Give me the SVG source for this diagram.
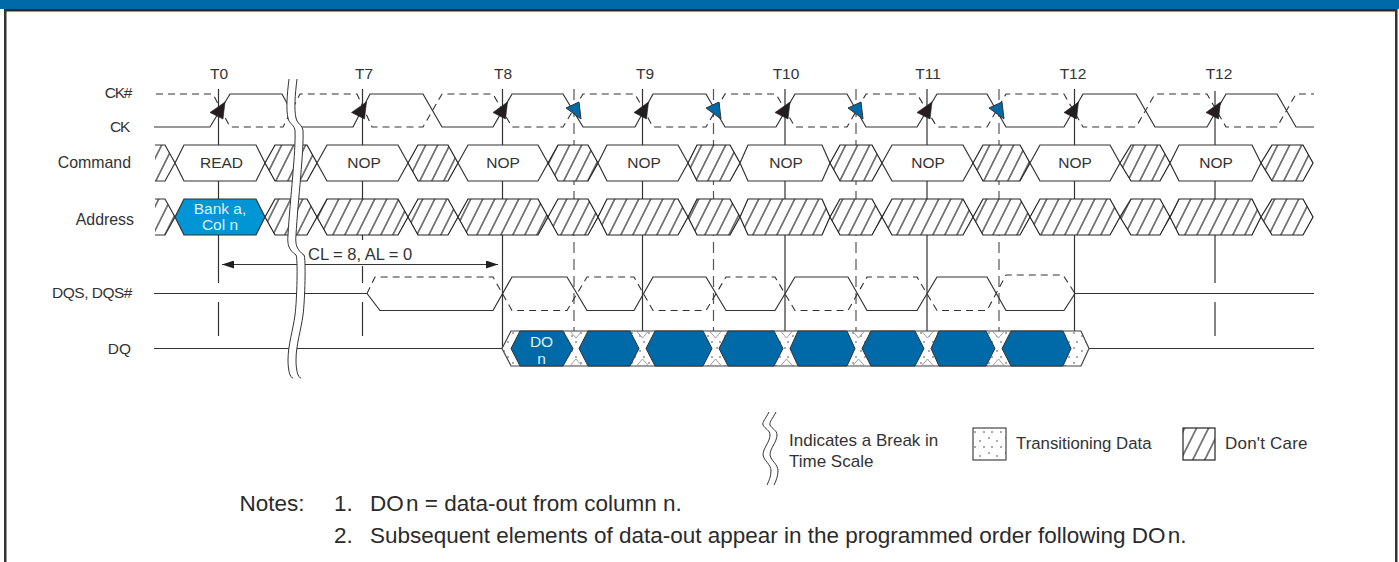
<svg xmlns="http://www.w3.org/2000/svg" width="1399" height="562" viewBox="0 0 1399 562">
<style>
text{font-family:"Liberation Sans",Arial,sans-serif;fill:#333;font-size:15.5px}
.m{text-anchor:middle}.e{text-anchor:end}
.n{font-size:22.500px;fill:#2b2b2b}
.lg{font-size:17px}
.l{fill:#dff1fb}
.w{fill:none;stroke:#333;stroke-width:1.2}
.d{fill:none;stroke:#333;stroke-width:1.1;stroke-dasharray:7 5}
.v{stroke:#333;stroke-width:1.2;fill:none}
.th{stroke:#333;stroke-width:1;fill:none}
.g{stroke:#555;stroke-width:1.2;fill:none;stroke-dasharray:11 6}
.h{fill:#fff;stroke:#333;stroke-width:1.2}
.c{fill:url(#hatch);stroke:#222;stroke-width:1.2}
.bl{fill:#0069a8;stroke:#333;stroke-width:1}
.k{fill:#231f20;stroke:#231f20;stroke-width:.6}
.s{fill:url(#stip);stroke:#444;stroke-width:1.2}
.nt{fill:#fff;stroke:#888;stroke-width:.8}
</style>
<defs>
<pattern id="hatch" patternUnits="userSpaceOnUse" width="12" height="36" patternTransform="skewX(-26.5)"><rect width="12" height="36" fill="#fff"/><line x1="6" y1="0" x2="6" y2="36" stroke="#222" stroke-width="1.25"/></pattern>
<pattern id="stip" patternUnits="userSpaceOnUse" width="17" height="15"><rect width="17" height="15" fill="#fff"/><circle cx="3" cy="3" r="1.100" fill="#999"/><circle cx="11" cy="6" r="1.100" fill="#999"/><circle cx="6" cy="12" r="1.100" fill="#999"/><circle cx="15" cy="12" r="1.100" fill="#999"/></pattern>
<marker id="ah" markerWidth="13" markerHeight="8" refX="12" refY="4" orient="auto-start-reverse" markerUnits="userSpaceOnUse"><path d="M0,0 L12,4 L0,8 Z" fill="#231f20"/></marker>
</defs>
<rect width="1399" height="562" fill="#fff"/>
<g id="frame">
<rect x="0" y="0" width="1399" height="9" fill="#0069a8"/>
<rect x="5" y="9" width="1391" height="2.500" fill="#2b2b2b"/>
<rect x="4" y="9" width="2.500" height="553" fill="#333"/>
<rect x="1395" y="9" width="2.500" height="553" fill="#333"/>
</g>
<g id="connectors">
<path class="v" d="M218.500,89V283M218.500,302V336M362.500,89V240M362.500,266V283M362.500,302V336M502.500,89V348M642.500,89V338M785,89V338M927,89V338M1074.500,89V331M1215,91V283M1215,302V336"/>
<path class="g" d="M574,89V338M713.500,89V338M856,89V338M999,89V338"/>
<line class="v" x1="222" y1="264.500" x2="498" y2="264.500" marker-start="url(#ah)" marker-end="url(#ah)"/>
</g>
<g id="clock">
<path class="d" d="M156,94H213L230,127H283L300,94H357L372,127H423L442,94H493L512,127H563L583,94H635L653,127H706L725,94H776L795,127H847L866,94H917L937,127H987L1006,94H1064L1083,127H1136L1155,94H1207L1226,127H1277L1296,94H1314"/>
<path class="w" d="M154,127H210L230,94H282L300,127H353L370,94H423L442,127H493L512,94H563L583,127H635L653,94H706L725,127H776L795,94H847L866,127H917L937,94H987L1006,127H1064L1083,94H1136L1155,127H1207L1226,94H1277L1296,127H1314"/>
<polygon class="k" points="210,112.500 225,102 223,119"/>
<polygon class="k" points="351.500,112.500 366.500,102 364.500,119"/>
<polygon class="k" points="493,112.500 507.500,102 505.500,119"/>
<polygon class="k" points="634,112.500 648.500,102 646.500,119"/>
<polygon class="k" points="775,112.500 790,102 788,119"/>
<polygon class="k" points="917,112.500 932,102 930,119"/>
<polygon class="k" points="1064,112.500 1078.500,102 1076.500,119"/>
<polygon class="k" points="1206,112.500 1220.500,102 1218.500,119"/>
<polygon class="bl" points="566,108 579,102 581,119"/>
<polygon class="bl" points="706,108 719,102 721,119"/>
<polygon class="bl" points="848,108 861,102 863,119"/>
<polygon class="bl" points="989,108 1002,102 1004,119"/>
</g>
<g id="command">
<polygon points="155,145 165,145 175,163 165,181 155,181" fill="url(#hatch)"/>
<polyline class="v" points="155,145 165,145 175,163 165,181 155,181"/>
<polygon class="h" points="175,163 184,145 256,145 265,163 256,181 184,181"/>
<polygon class="c" points="265,163 275,145 307,145 317,163 307,181 275,181"/>
<polygon class="h" points="317,163 327,145 398,145 408,163 398,181 327,181"/>
<polygon class="c" points="408,163 418,145 448,145 458,163 448,181 418,181"/>
<polygon class="h" points="458,163 468,145 538,145 548,163 538,181 468,181"/>
<polygon class="c" points="548,163 558,145 588,145 598,163 588,181 558,181"/>
<polygon class="h" points="598,163 607,145 678,145 688,163 678,181 607,181"/>
<polygon class="c" points="688,163 697,145 730,145 740,163 730,181 697,181"/>
<polygon class="h" points="740,163 748,145 822,145 830,163 822,181 748,181"/>
<polygon class="c" points="830,163 840,145 872,145 882,163 872,181 840,181"/>
<polygon class="h" points="882,163 892,145 963,145 973,163 963,181 892,181"/>
<polygon class="c" points="973,163 983,145 1020,145 1030,163 1020,181 983,181"/>
<polygon class="h" points="1030,163 1040,145 1110,145 1120,163 1110,181 1040,181"/>
<polygon class="c" points="1120,163 1131,145 1160,145 1170,163 1160,181 1131,181"/>
<polygon class="h" points="1170,163 1179,145 1252,145 1261,163 1252,181 1179,181"/>
<polygon class="c" points="1261,163 1272,145 1303,145 1313,163 1303,181 1272,181"/>
<text class="m" x="221.500" y="168">READ</text>
<text class="m" x="364" y="168">NOP</text><text class="m" x="503" y="168">NOP</text><text class="m" x="644" y="168">NOP</text><text class="m" x="786" y="168">NOP</text><text class="m" x="928" y="168">NOP</text><text class="m" x="1075" y="168">NOP</text><text class="m" x="1216" y="168">NOP</text>
</g>
<g id="address">
<polygon points="155,199 165,199 175,217 165,235 155,235" fill="url(#hatch)"/>
<polyline class="v" points="155,199 165,199 175,217 165,235 155,235"/>
<polygon points="175,217 184,199 256,199 265,217 256,235 184,235" fill="#0096d6" stroke="#333" stroke-width="1.200"/>
<polygon class="c" points="265,217 275,199 307,199 317,217 307,235 275,235"/>
<polygon class="c" points="317,217 327,199 398,199 408,217 398,235 327,235"/>
<polygon class="c" points="408,217 418,199 448,199 458,217 448,235 418,235"/>
<polygon class="c" points="458,217 468,199 538,199 548,217 538,235 468,235"/>
<polygon class="c" points="548,217 558,199 588,199 598,217 588,235 558,235"/>
<polygon class="c" points="598,217 607,199 678,199 688,217 678,235 607,235"/>
<polygon class="c" points="688,217 697,199 730,199 740,217 730,235 697,235"/>
<polygon class="c" points="740,217 748,199 822,199 830,217 822,235 748,235"/>
<polygon class="c" points="830,217 840,199 872,199 882,217 872,235 840,235"/>
<polygon class="c" points="882,217 892,199 963,199 973,217 963,235 892,235"/>
<polygon class="c" points="973,217 983,199 1020,199 1030,217 1020,235 983,235"/>
<polygon class="c" points="1030,217 1040,199 1110,199 1120,217 1110,235 1040,235"/>
<polygon class="c" points="1120,217 1131,199 1160,199 1170,217 1160,235 1131,235"/>
<polygon class="c" points="1170,217 1179,199 1252,199 1261,217 1252,235 1179,235"/>
<polygon class="c" points="1261,217 1272,199 1303,199 1313,217 1303,235 1272,235"/>
<text class="m l" x="220" y="214">Bank a,</text>
<text class="m l" x="220" y="230">Col n</text>
</g>
<g id="dqs">
<path class="d" d="M367,293.500L375,277H493L512,310.500H567L587,277H634L653,310.500H706L726,277H775L795,310.500H848L867,277H917L937,310.500H987L1006,275H1063L1075,293.500"/>
<path class="w" d="M154,293.500H367L380,310.500H493L512,277H567L587,310.500H634L653,277H706L726,310.500H775L795,277H848L867,310.500H917L937,277H987L1006,310.500H1064L1075,293.500H1314"/>
</g>
<g id="dq">
<path class="w" d="M154,348.500H502M1089,348.500H1314"/>
<polygon class="s" points="502,348.500 511,331 1081,331 1089,348.500 1081,366 511,366"/>
<path class="nt" d="M570.500,331.600L576,338L581.500,331.600ZM570.500,365.400L576,359L581.500,365.400ZM637,331.600L642.500,338L648,331.600ZM637,365.400L642.500,359L648,365.400ZM710,331.600L715.500,338L721,331.600ZM710,365.400L715.500,359L721,365.400ZM781,331.600L786.500,338L792,331.600ZM781,365.400L786.500,359L792,365.400ZM853,331.600L858.500,338L864,331.600ZM853,365.400L858.500,359L864,365.400ZM922,331.600L927.500,338L933,331.600ZM922,365.400L927.500,359L933,365.400ZM993,331.600L998.500,338L1004,331.600ZM993,365.400L998.500,359L1004,365.400Z"/>
<polygon class="bl" points="511,348.500 520,331 563,331 573,348.500 563,366 520,366"/>
<polygon class="bl" points="579,348.500 588,331 630,331 639,348.500 630,366 588,366"/>
<polygon class="bl" points="646,348.500 655,331 703,331 712,348.500 703,366 655,366"/>
<polygon class="bl" points="719,348.500 728,331 774,331 783,348.500 774,366 728,366"/>
<polygon class="bl" points="790,348.500 798,331 847,331 855,348.500 847,366 798,366"/>
<polygon class="bl" points="862,348.500 871,331 915,331 924,348.500 915,366 871,366"/>
<polygon class="bl" points="931,348.500 939,331 986,331 995,348.500 986,366 939,366"/>
<polygon class="bl" points="1002,348.500 1011,331 1063,331 1071,348.500 1063,366 1011,366"/>
<text class="m l" x="541.500" y="347">DO</text>
<text class="m l" x="541.500" y="364">n</text>
</g>
<g id="break">
<path fill="#fff" d="M289,79C287,95 286,110 288,118C289,124 295,125 295,131C296,150 290,200 288,235C287,245 289,250 296,255C298,258 297,300 295,315C293,330 288,345 288,360C288,370 290,378 293,378H301C298,378 296,370 296,360C296,345 301,330 303,315C305,300 306,258 304,255C297,250 295,245 296,235C298,200 304,150 303,131C303,125 297,124 296,118C294,110 295,95 297,79Z"/>
<path class="th" d="M289,79C287,95 286,110 288,118C289,124 295,125 295,131C296,150 290,200 288,235C287,245 289,250 296,255C298,258 297,300 295,315C293,330 288,345 288,360C288,370 290,378 293,378"/>
<path class="th" d="M297,79C295,95 294,110 296,118C297,124 303,125 303,131C304,150 298,200 296,235C295,245 297,250 304,255C306,258 305,300 303,315C301,330 296,345 296,360C296,370 298,378 301,378"/>
</g>
<g id="labels">
<text class="m" x="219" y="79">T0</text><text class="m" x="364" y="79">T7</text><text class="m" x="503" y="79">T8</text><text class="m" x="645" y="79">T9</text><text class="m" x="786" y="79">T10</text><text class="m" x="928" y="79">T11</text><text class="m" x="1073" y="79">T12</text><text class="m" x="1219" y="79">T12</text>
<text class="e" x="131" y="98" letter-spacing="-1.300">CK#</text>
<text class="e" x="129" y="132" letter-spacing="-1.300">CK</text>
<text class="e" x="131" y="168" style="font-size:15.900px">Command</text>
<text class="e" x="134" y="225" style="font-size:15.900px">Address</text>
<text class="e" x="132" y="298" letter-spacing="-.5">DQS, DQS#</text>
<text class="e" x="131" y="354">DQ</text>
<text x="308" y="260" style="font-size:16.500px">CL = 8, AL = 0</text>
</g>
<g id="legend">
<path class="th" d="M769,412C766,418 762,422 763,425C765,429 770,430 770,435C770,442 763,448 763,455C764,461 771,464 771,471C771,476 769,481 767,485"/>
<path class="th" d="M776,412C773,418 769,422 770,425C772,429 777,430 777,435C777,442 770,448 770,455C771,461 778,464 778,471C778,476 776,481 774,485"/>
<text class="lg" x="789" y="446">Indicates a Break in</text>
<text class="lg" x="789" y="467">Time Scale</text>
<rect class="s" x="973" y="428" width="33" height="32"/>
<text class="lg" x="1016" y="449" style="font-size:16.800px">Transitioning Data</text>
<rect class="c" x="1183" y="428" width="32" height="32"/>
<text class="lg" x="1225" y="449" letter-spacing=".2">Don't Care</text>
</g>
<g id="notes">
<text class="n" x="239.500" y="511">Notes:</text>
<text class="n" x="334" y="511">1.</text>
<text class="n" x="370" y="511"><tspan word-spacing="-4">DO n</tspan> = data-out from column n.</text>
<text class="n" x="334" y="543">2.</text>
<text class="n" x="370" y="543">Subsequent elements of data-out appear in the programmed order following <tspan word-spacing="-4">DO n</tspan>.</text>
</g>
</svg>
